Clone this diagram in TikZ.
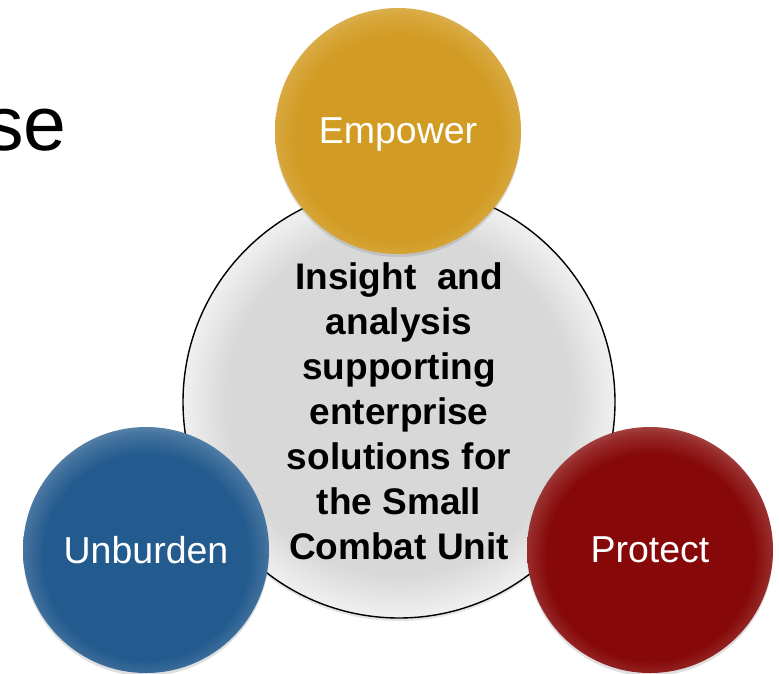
\documentclass[tikz,border=0pt]{standalone}
\usepackage{fontspec}
\setmainfont{Liberation Sans}
\usetikzlibrary{shadows}
\definecolor{goldm}{HTML}{D29C24}
\definecolor{bluem}{HTML}{245B8E}
\definecolor{redm}{HTML}{860808}
\definecolor{greym}{HTML}{D8D8D8}
\pgfdeclareradialshading{goldball}{\pgfpoint{0bp}{-2.5bp}}{color(0bp)=(goldm); color(21bp)=(goldm); color(25bp)=(goldm!88!white); color(28bp)=(goldm!70!white); color(50bp)=(goldm!70!white)}
\pgfdeclareradialshading{blueball}{\pgfpoint{0bp}{-2.5bp}}{color(0bp)=(bluem); color(21bp)=(bluem); color(25bp)=(bluem!85!white); color(28bp)=(bluem!65!white); color(50bp)=(bluem!65!white)}
\pgfdeclareradialshading{redball}{\pgfpoint{0bp}{-2.5bp}}{color(0bp)=(redm); color(21bp)=(redm); color(25bp)=(redm!85!white); color(28bp)=(redm!65!white); color(50bp)=(redm!65!white)}
\pgfdeclareradialshading{greyball}{\pgfpoint{0bp}{0bp}}{color(0bp)=(greym); color(20bp)=(greym); color(24bp)=(greym!50!white); color(25bp)=(greym!40!white); color(50bp)=(greym!40!white)}
\tikzset{
  ball/.style={circle, inner sep=0pt, minimum size=246pt, text=white,
    font=\fontsize{37.5}{42}\selectfont, text depth=0pt,
    drop shadow={opacity=0.25, shadow xshift=0pt, shadow yshift=-3pt}},
  hub/.style={circle, inner sep=0pt, minimum size=432pt, draw=black, line width=1.4pt,
    shading=greyball,
    drop shadow={opacity=0.2, shadow xshift=0pt, shadow yshift=-3pt}},
  hubtext/.style={align=center, inner sep=0pt, text=black,
    font=\bfseries\fontsize{37}{45}\selectfont},
  titletext/.style={inner sep=0pt, text=black, font=\fontsize{77}{80}\selectfont}
}
\begin{document}
\begin{tikzpicture}[x=1pt, y=-1pt]
\useasboundingbox[fill=white] (0,0) rectangle (779,674);
\node[titletext, anchor=base east] (title) at (67,150) {se};
\node[hub] (hub) at (399,402) {};
\node[hubtext] (hubt) at (399,411) {Insight\ \ and\\analysis\\supporting\\enterprise\\solutions for\\the Small\\Combat Unit};
\node[ball, shading=goldball] (empower) at (398,131) {Empower};
\node[ball, shading=blueball] (unburden) at (146,550) {Unburden};
\node[ball, shading=redball] (protect) at (650,550) {Protect};
\end{tikzpicture}
\end{document}
